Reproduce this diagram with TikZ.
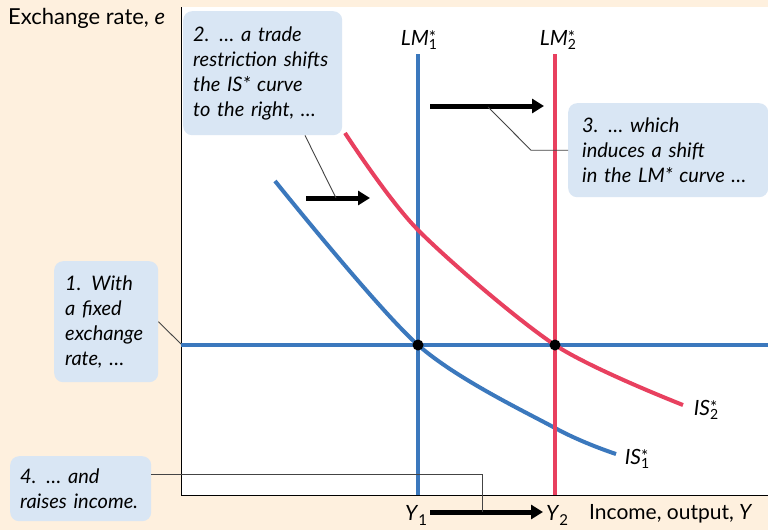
\documentclass[tikz,border=0pt]{standalone}
\usepackage{fontspec}
\setmainfont{Lato}
\usetikzlibrary{arrows.meta}
\definecolor{paper}{HTML}{FEF0DE}
\definecolor{isblue}{HTML}{3B78BD}
\definecolor{isred}{HTML}{E8405F}
\definecolor{notefill}{HTML}{D9E6F4}
\definecolor{leadgray}{HTML}{444444}
\newcommand\starsub[2]{{\itshape #1}\raisebox{-4pt}{\vbox{\offinterlineskip\hbox{\fontsize{17}{17}\selectfont *}\kern-4pt\hbox{\fontsize{14}{14}\selectfont #2}}}}
\newcommand\ysub[1]{\textit{Y}\raisebox{-5pt}{\fontsize{15}{15}\selectfont #1}}

\begin{document}
\begin{tikzpicture}[x=1pt,y=-1pt,
    note/.style={fill=notefill,rounded corners=9pt,anchor=north west,align=left,inner ysep=0pt,font=\fontsize{20}{25}\selectfont\itshape},
    shiftarrow/.style={line width=5pt,-{Triangle[length=12pt,width=14pt]}},
    leader/.style={leadgray,line width=0.9pt},
    curve/.style={line width=4pt},
    eqdot/.style={circle,fill=black,inner sep=0pt,minimum size=11pt},
    lab/.style={inner sep=0pt,font=\fontsize{21}{24}\selectfont}]
      \useasboundingbox (0,0) rectangle (768,530);
      \fill[paper] (0,0) rectangle (768,530);
      \fill[white] (181,7) rectangle (768,495);
      \draw[line width=1pt] (181,7) -- (181,495) -- (768,495);
      % curves
      \draw[curve,isblue] (181,345) -- (768,345);
      \draw[curve,isblue] (418,54) -- (418,495);
      \draw[curve,isblue] plot[smooth] coordinates {(275,181) (418,345) (555,428) (616,454)};
      \draw[curve,isred] plot[smooth] coordinates {(345,133) (418,230) (555,345) (683,405)};
      \draw[curve,isred] (555,54) -- (555,495);
      \node[eqdot] (eqone) at (418,345) {};
      \node[eqdot] (eqtwo) at (555,345) {};
      % labels
      \node[lab,anchor=west,font=\fontsize{22}{24}\selectfont] (eaxis) at (8,18) {Exchange rate, \textit{e}};
      \node[lab,anchor=west] (yaxis) at (589,514) {Income, output, \textit{Y}};
      \node[lab] (lmonelab) at (419,40) {\starsub{LM}{1}};
      \node[lab] (lmtwolab) at (558,40) {\starsub{LM}{2}};
      \node[lab] (istwolab) at (706,410) {\starsub{IS}{2}};
      \node[lab] (isonelab) at (637,459) {\starsub{IS}{1}};
      \node[lab] (yone) at (416,515) {\ysub{1}};
      \node[lab] (ytwo) at (557,515) {\ysub{2}};
      % shifts
      \coordinate (isfrom) at (306,198); \coordinate (isto) at (370,198);
      \coordinate (lmfrom) at (430,106); \coordinate (lmto) at (544,106);
      \coordinate (yfrom) at (430,512); \coordinate (yto) at (543,512);
      \draw[shiftarrow] (isfrom) -- (isto);
      \draw[shiftarrow] (lmfrom) -- (lmto);
      \draw[shiftarrow] (yfrom) -- (yto);
      % notes
      \node[note,inner xsep=10pt,text width=139pt,minimum height=124pt] (notetwo) at (183,11) {2. … a trade\\restriction shifts\\the IS* curve\\to the right, …};
      \node[note,inner xsep=14pt,text width=172pt,minimum height=94pt] (notethree) at (568,103) {3. … which\\induces a shift\\in the LM* curve …};
      \node[note,inner xsep=11pt,text width=82pt,minimum height=121pt] (noteone) at (54,261) {1. With\\a fixed\\exchange\\rate, …};
      \node[note,inner xsep=10pt,text width=121pt,minimum height=65pt] (notefour) at (10,456) {4. … and\\raises income.};
      % leaders
      \coordinate (istip) at (336,198);
      \coordinate (lmtip) at (488,107);
      \coordinate (ytip) at (482,512);
      \coordinate (fixed) at (181,344);
      \draw[leader] ([xshift=122pt]notetwo.south west) -- (istip);
      \draw[leader] (notethree.west) -- ++(-37,0) -- (lmtip);
      \draw[leader] (noteone.east) -- (fixed);
      \draw[leader] ([yshift=14pt]notefour.east) -| (ytip);
    \end{tikzpicture}
\end{document}
